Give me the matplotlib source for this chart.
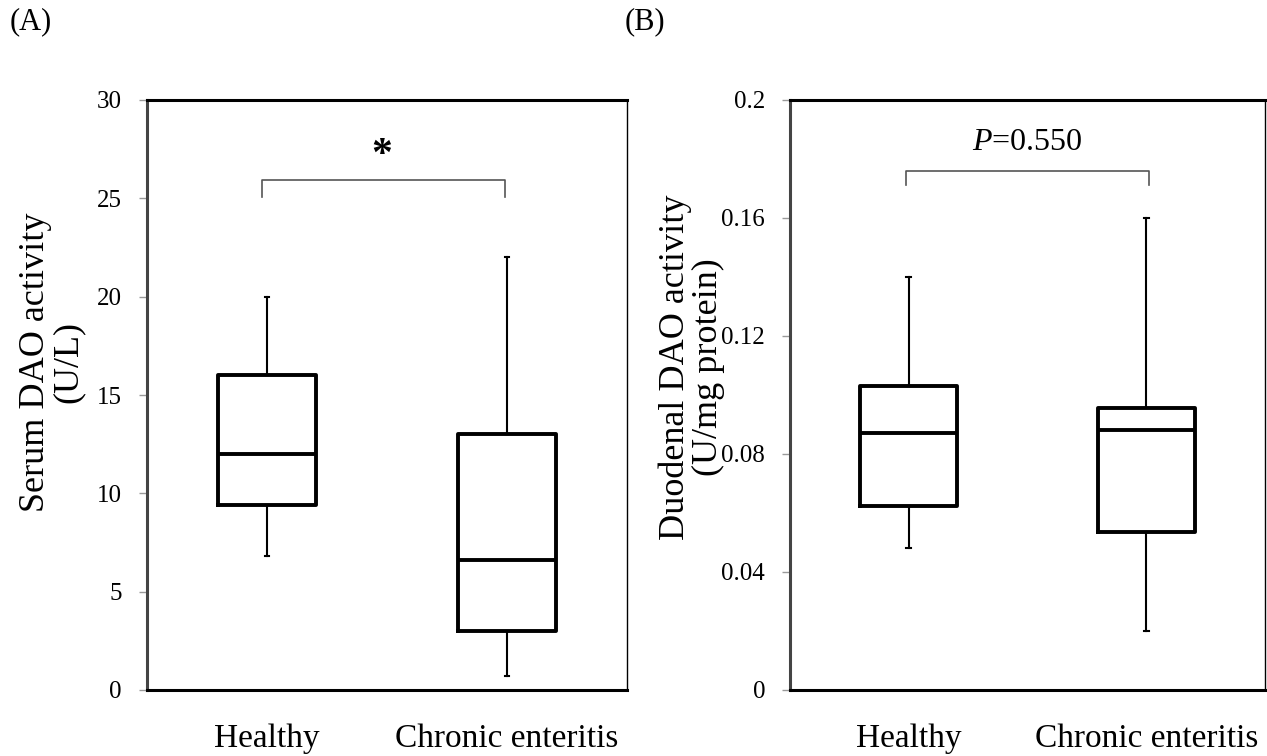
import matplotlib.pyplot as plt

plt.rcParams['font.family'] = ['Liberation Serif', 'DejaVu Serif']
plt.rcParams['mathtext.fontset'] = 'custom'
plt.rcParams['mathtext.rm'] = 'Liberation Serif'
plt.rcParams['mathtext.it'] = 'Liberation Serif:italic'

groups = ['Healthy', 'Chronic enteritis']

# panel A: serum DAO activity (U/L)
serum_low = [6.8, 0.7]
serum_q1 = [9.4, 3.0]
serum_med = [12.0, 6.6]
serum_q3 = [16.0, 13.0]
serum_high = [20.0, 22.0]

# panel B: duodenal DAO activity (U/mg protein)
duod_low = [0.048, 0.020]
duod_q1 = [0.0625, 0.0535]
duod_med = [0.087, 0.088]
duod_q3 = [0.103, 0.0955]
duod_high = [0.140, 0.160]


def stats(low, q1, med, q3, high):
    return [{'whislo': a, 'q1': b, 'med': c, 'q3': d, 'whishi': e, 'fliers': []}
            for a, b, c, d, e in zip(low, q1, med, q3, high)]


fig = plt.figure(figsize=(12.67, 7.56), dpi=100)
axA = fig.add_axes([147/1267, 66/756, 480/1267, 590/756])
axB = fig.add_axes([790/1267, 66/756, 475/1267, 590/756])

box_kw = dict(showfliers=False,
              boxprops=dict(color='black', lw=2.8),
              medianprops=dict(color='black', lw=2.8),
              whiskerprops=dict(color='black', lw=1.5),
              capprops=dict(color='black', lw=1.5))


def style(ax, ymax, ticks, ticklabels):
    ax.set_xlim(0.5, 2.5)
    ax.set_ylim(0, ymax)
    ax.set_yticks(ticks)
    ax.set_yticklabels(ticklabels, fontsize=18)
    ax.set_xticks([1, 2])
    ax.set_xticklabels(groups, fontsize=24)
    ax.tick_params(axis='x', length=0, pad=24)
    ax.tick_params(axis='y', direction='out', length=6, width=1, color='#999999', pad=12)
    for s in ['top', 'bottom']:
        ax.spines[s].set_linewidth(2.2)
        ax.spines[s].set_color('black')
    ax.spines['left'].set_linewidth(2.2)
    ax.spines['left'].set_color('#444444')
    ax.spines['right'].set_linewidth(1)
    ax.spines['right'].set_color('black')


# ---- panel A
axA.bxp(stats(serum_low, serum_q1, serum_med, serum_q3, serum_high),
        positions=[1, 2], widths=0.41, capwidths=0.02, **box_kw)
style(axA, 30, [0, 5, 10, 15, 20, 25, 30], ['0', '5', '10', '15', '20', '25', '30'])
axA.set_ylabel('Serum DAO activity\n(U/L)', fontsize=26, linespacing=1.0)
axA.yaxis.set_label_coords(-0.129, 0.556)
axA.plot([0.98, 0.98, 1.99, 1.99], [25.07, 25.93, 25.93, 25.07], color='#555555', lw=1.2)
axA.text(1.48, 27.15, '*', fontsize=30, fontweight='bold', ha='center', va='center')

# ---- panel B
axB.bxp(stats(duod_low, duod_q1, duod_med, duod_q3, duod_high),
        positions=[1, 2], widths=0.41, capwidths=0.02, **box_kw)
style(axB, 0.2, [0, 0.04, 0.08, 0.12, 0.16, 0.2], ['0', '0.04', '0.08', '0.12', '0.16', '0.2'])
axB.set_ylabel('Duodenal DAO activity\n(U/mg protein)', fontsize=26, linespacing=1.0)
axB.yaxis.set_label_coords(-0.137, 0.547)
axB.plot([0.99, 0.99, 2.01, 2.01], [0.1712, 0.1759, 0.1759, 0.1712], color='#555555', lw=1.2)
axB.text(1.5, 0.183, r'$\mathit{P}$=0.550', fontsize=23, ha='center', va='baseline')

fig.text(10/1267, 1 - 22/756, '(A)', fontsize=22, ha='left', va='center')
fig.text(625/1267, 1 - 22/756, '(B)', fontsize=22, ha='left', va='center')

fig.savefig('out.png', dpi=100)
